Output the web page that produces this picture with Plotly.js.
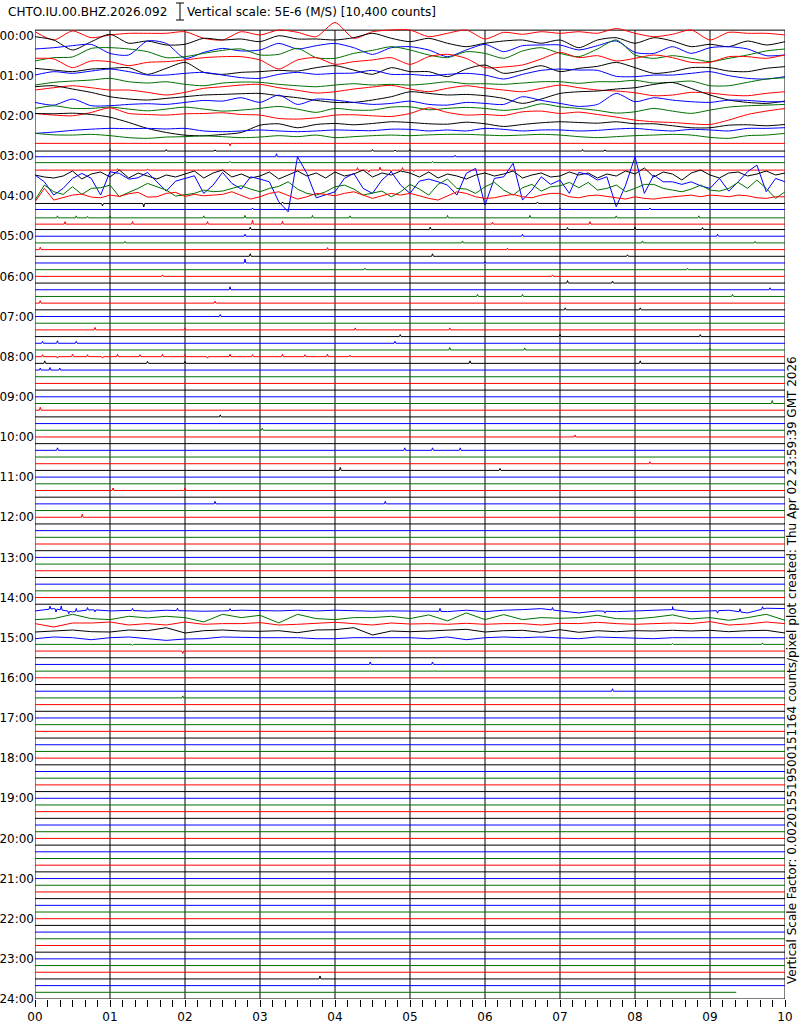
<!DOCTYPE html>
<html><head><meta charset="utf-8">
<script src="https://cdn.plot.ly/plotly-3.0.1.min.js"></script>
<style>html,body{margin:0;padding:0;background:#fff;}#chart{width:800px;height:1024px;}</style>
</head><body><div id="chart"></div>
<script>
// ---------- texts ----------
const stationTitle = "CHTO.IU.00.BHZ.2026.092";
const scaleTitle = "Vertical scale: 5E-6 (M/S) [10,400 counts]";
const sideText = "Vertical Scale Factor: 0.002015519500151164 counts/pixel plot created: Thu Apr 02 23:59:39 GMT 2026";
const hourLabels = ["00:00","01:00","02:00","03:00","04:00","05:00","06:00","07:00","08:00","09:00","10:00","11:00","12:00",
  "13:00","14:00","15:00","16:00","17:00","18:00","19:00","20:00","21:00","22:00","23:00","24:00"];
const minuteLabels = ["00","01","02","03","04","05","06","07","08","09","10"];
const rowColors = ["#ff0000","#000000","#0000ff","#007000"]; // row%4: red, black, blue, green
const rowsPerHour = 6;
const totalRows = 144;
const lastRowEndMinute = 9.35;

// ---------- traces (offsets in original pixels, up = positive) ----------
// 41 samples per row (every 15 s)
const row00 = [3.8,-4.5,4.5,-2.2,0.5,2.2,2.2,2.2,3.8,-2.8,-4.5,3.8,0.5,5.5,3.2,-1.2,13,-2.8,3.8,5.5,5.5,-1.2,2.2,5.5,-3.5,3.2,1.2,3.8,2.2,3.8,2.2,7,2.2,-1.2,1.2,5.5,-4.5,3.2,2.2,2.2,0.5];
const row01 = [5.5,2.2,-7.8,0.5,7.9,-1.1,1.2,-2.8,-2.1,3.9,2.2,3.2,0.5,6.5,3.2,3.2,2.2,4.5,8.9,3.9,0.5,3.9,-1.1,-4.5,-1.1,1.2,2.2,-1.1,2.2,-5.5,2.2,4.5,-1.1,4.5,1.2,-4.5,-2.1,-4.5,1.2,-2.8,0.5];
const row02 = [-0.1,1.2,3.2,4.5,-4.5,-6.1,7.9,5.5,-9.5,-3.5,0.5,-2.1,-1.1,5.5,-0.1,3.2,5.5,1.2,-5.5,1.2,2.2,-1.1,-7.8,-1.1,4.5,-2.8,3.2,3.9,3.9,-1.1,3.2,7.9,-3.5,-4.5,2.2,-4.5,1.2,2.2,-0.1,-6.8,-6.1];
const row03 = [-5.4,-2.1,-1.4,7.2,7.9,6.6,3.9,-2.1,-1.1,2.2,5.2,6.6,0.6,1.2,7.2,-2.1,-2.8,2.2,5.2,8.9,5.6,0.6,-2.1,3.9,2.2,-2.8,4.6,7.9,2.2,-1.1,6.6,15.6,0.6,-2.8,-0.1,-2.8,-6.1,-2.8,0.6,4.6,6.6];
const row04 = [3.9,3.3,-5.4,1.3,0.6,-3.4,-0.1,0.6,2.3,4.6,5.6,5.6,2.3,-6.7,2.3,4.6,-2.1,0.6,2.3,4.6,-2.1,5.6,8.0,3.9,-5.4,-4.7,-2.7,3.3,9.9,4.6,6.6,1.3,3.9,7.3,4.6,-0.1,-0.1,5.6,5.6,3.9,7.3];
const row05 = [0.6,-1.1,-2.7,-0.1,0.6,1.3,-5.4,0.6,6.6,-3.4,-5.4,-3.4,-2.7,-1.4,-2.1,1.3,3.3,-1.1,-5.4,1.3,-2.7,-2.7,-7.7,-0.1,3.9,-4.4,-1.4,3.3,-2.7,0.6,2.6,6.6,1.3,-4.4,-2.7,1.3,1.3,-2.1,-2.7,0.6,2.3];
const row06 = [0.6,4.0,2.3,4.6,6.6,4.0,0.6,0.6,2.3,3.3,0.6,-2.0,-2.7,1.3,3.3,1.3,2.3,2.6,5.3,1.3,1.3,0,1.3,2.3,0.6,-3.4,1.3,5.3,6.6,5.6,5.3,-0.7,-1.0,0.6,0.6,2.3,4.0,0,-2.7,-3.4,-1.0];
const row07 = [-2.7,0,1.3,2.3,4.0,0.6,-0.7,0.6,-2.0,-3.4,-0.7,0.3,0,-2.0,-3.4,-4.4,-2.7,-1.4,-2.7,-2.0,-2.7,-1.4,0.6,-1.4,-1.4,-2.0,-0.7,0.6,0.6,-1.0,0.6,0.6,2.0,-0.7,0,1.3,-3.4,-3.4,0,3.3,4.6];
const row08 = [-1.0,1.3,3.3,1.3,-1.0,-1.0,-3.3,-6.0,-3.3,0.7,2.3,4.0,4.7,1.3,-1.3,-4.0,-2.7,0,2.0,3.7,0,-2.7,0.7,3.3,1.0,-1.0,-2.7,0.7,4.0,1.3,-1.0,-2.0,-3.7,-6.7,-6.0,-3.3,-4.0,-6.0,-6.7,-4.3,-2.7];
const row09 = [9.0,10.0,6.7,3.3,-1.0,-3.3,-4.3,-2.7,-1.0,0.7,1.3,2.0,2.3,0,-2.0,-4.7,-6.7,-6.7,-4.3,-1.0,4.0,2.3,0.7,1.3,0,-2.7,-7.7,-3.3,2.3,4.0,4.7,6.7,8.0,11.3,13.3,7.3,0.7,-4.3,-6.7,-7.7,-5.3];
const row10 = [0,-2.7,3.3,-3.3,-3.3,-2.0,-1.3,-2.0,0,2.0,1.3,4.7,0,7.3,-2.0,3.3,2.3,0,-2.0,-1.0,1.3,-2.0,-2.7,0,-1.0,-2.0,5.7,2.0,-1.0,-4.0,-2.0,9.0,0.7,4.7,2.3,0.7,0,2.3,2.0,0.7,0.7];
const row11 = [0.7,3.3,0.7,0.7,2.0,0,-1.7,0,2.0,0,-2.0,-1.0,0.7,2.7,0,-3.3,0.7,-1.0,-1.0,2.0,2.3,-0.7,0.7,1.7,0.7,-1.3,0.7,5.3,2.3,0.7,-1.3,-4.0,-2.7,0.7,-2.0,-4.3,-1.0,2.0,3.3,4.0,4.7];
const row12 = [2.3,0.7,0,3.3,8.0,2.3,1.3,0.7,2.0,2.3,3.0,1.3,0.7,-2.7,-3.3,-2.0,0.7,1.0,0,-0.7,2.3,8.0,3.3,0.7,1.3,0.3,4.0,4.7,2.3,3.7,1.3,-1.3,-4.3,-6.0,-6.7,-8.0,-8.7,-4.3,1.3,4.7,7.3];
const row13 = [9.0,8.7,9.3,8.0,5.3,0,-6.0,-10.0,-12.7,-13.3,-12.0,-10.0,-2.7,-1.3,-5.3,-2.0,-1.0,-2.3,-1.0,0.7,0,-1.3,-1.7,0.3,-1.3,-4.0,-2.0,-0.3,0.7,0,-0.7,0.7,-1.3,-1.3,-3.3,-5.3,-5.3,-2.7,-2.3,-3.3,-2.0];
const row14 = [-4.2,-2.9,-1.2,0,0.8,0.5,0.8,0.2,0.8,-1.8,-2.5,-1.8,-0.8,-1.8,-2.5,-1.8,-0.8,-1.2,-1.5,0,-0.2,-1.8,-0.8,-1.8,0.8,-0.2,-1.8,-0.8,-0.8,-1.8,-1.2,0.2,0.8,-0.8,-1.8,-0.2,-0.8,-1.8,0.8,0.8,1.5];
const row15 = [2.5,1,0.8,1.5,0.2,-1.8,-2.5,-1.2,-0.8,0,-0.8,-1.8,-1.2,0.2,-0.8,0.8,-1.8,-0.8,0.2,0.8,0.2,1,1.5,1.5,0.8,0.2,0.8,1.5,0.8,-0.8,-1.8,-0.8,0.2,0.8,1.5,0.8,-1.5,-2.5,0.2,0.8,2.5];
const row86 = [0,2.3,-1,1.3,0,0.7,-0.3,0.7,0,-0.3,0,0.7,0,0,0.7,0,0.7,0,-0.3,0,0,0,-0.7,0.7,-0.7,0.7,1.3,2.3,0,-2,0,-0.7,0,0.7,1.3,-0.7,0,0.7,-2,2.7,2.3];
const row87 = [-2,-1,3.3,-1,-2,1.3,-0.3,1.3,0,-4.3,3.3,0,2.3,-5.3,3.3,-1,-2,0,0,1.3,-1,2.7,-3.3,4.7,-2,3,-2,0,-0.7,0,2.3,-1,-1.3,0.3,2.7,-1.3,0,-2.7,0,3.3,-2.7];
const row88 = [0.7,-2.7,1.3,1.3,2.3,-0.7,0.7,-0.7,2.3,0,0.7,0.7,1.7,-0.7,0,0.7,2,0.7,-0.7,1.3,0.3,0.7,0,1,0,0.7,0.7,-0.7,1,0.7,2,0.7,0,0.7,1.3,0.7,2.7,-0.7,0.3,2.3,0.7];
const row89 = [-1,0.3,1,-0.7,-1,1,0.3,3.3,-2,0.3,1,0,-0.3,0.3,-1.7,1,1.3,3.3,-4,0,-0.7,0,0.7,1.7,-1,0.3,0.7,-1.3,1.3,-1.3,0.3,-0.7,0.3,0,0.7,0,0.7,-0.7,0.3,0.7,-2];
const row90 = [-1,0.7,0,-2,0,0.7,-1,-2.7,-1.3,-1,0.7,0,0,0,0,-1,-1,0,0,0,0,-1,0.7,-2,0,0.7,0,0.7,0,-1,0.7,0,0,-1,0,0,0.7,0,0,0.7,0];
// 81 samples per row (every 7.5 s)
const row21 = [1,-1,-2,0,5,-3,2,4,-1,6,-2,3,0,-3,1,-1,2,5,-2,3,6,-1,2,-2,0,4,-3,1,5,0,3,-2,4,0,2,6,-1,3,1,5,3,-1,4,-2,2,0,-3,1,3,0,2,5,-2,1,3,-1,0,4,1,3,-2,2,0,5,2,8,-1,4,2,-4,3,6,1,-2,3,4,0,2,5,1,3];
const row22 = [7.6,0.9,-12.4,-5.7,4.3,9.3,4.3,-12.4,10.9,9.3,3.6,4.9,10.3,0.9,-8.4,1.6,4.3,6.9,-10.7,-2.4,10.3,-0.7,-6.4,5.9,3.6,0.9,-19.1,-29.1,25.9,9.3,-15.1,-12.4,-9.1,4.3,9.3,-5.7,-10.7,2.6,10.9,-2.4,-10.7,1.6,3.6,0.9,-2.4,-12.4,9.3,14.3,-22.4,4.3,5.9,19.3,-17.4,-7.4,5.9,-1.7,2.6,-10.7,10.3,8.3,2.6,5.9,-24,-2.4,25.9,-10.7,7.6,0.9,0.9,-1.7,0.9,-3.1,-5.7,4.3,-8.4,0.9,10.9,17.6,-9.1,4.3,0.9];
const row23 = [-10.7,4.3,-2.3,-5,2.7,-5,1,1.7,4.3,-7.3,-3,1,6,2.7,-0.7,-6.7,-5.7,-4,-0.7,-2.3,-1.7,1,3.6,0.3,-2.4,1,3,7.6,0.3,-4,-5.7,-2.4,2.6,4.3,0.3,-5.7,-4,-1.7,-7.4,-2.4,5,0.3,-5.7,5,10.3,1,0.3,-4,2.6,7,-0.7,-5.7,1.6,5,-1.7,2.6,3.6,7,1.6,7,-0.7,1,4.3,-2.4,1,5,5,1,-0.7,-2.4,0.3,4.3,-0.7,-1.7,1,7,1,9.3,1,-9,-2.4];
const row24 = [-5.7,7.7,-4,-1.7,1,2,-1,-1.7,1,-0.3,2.3,3.7,-1,-0.7,2.7,3.7,-0.3,1.7,0.3,1,1.7,4.3,0.3,-3,-0.7,2.7,4.3,1,-3,-0.7,2.7,1.7,0.3,2.7,4.3,1,-2.3,0.3,2.7,1,2.7,0.3,-2.3,-4,0.3,4.3,2.7,-0.7,-2.3,-1.7,0.3,1.7,-0.7,-1.7,1,2.7,2.7,-0.7,-1.7,0.3,1,-0.7,-1.7,-3,-0.7,-2.3,-3,-1.7,-0.7,0.3,1,-0.7,1,0.3,-0.7,1,0.3,-1.7,-2.3,-0.7,-0.7];
const smoothRows = [0,1,2,3,4,5,6,7,8,9,10,11,12,13,14,15];
const smoothData = [row00,row01,row02,row03,row04,row05,row06,row07,row08,row09,row10,row11,row12,row13,row14,row15];
const sampledRows = [21,22,23,24,86,87,88,89,90];
const sampledData = [row21,row22,row23,row24,row86,row87,row88,row89,row90];

// quiet rows: constant level plus small spikes
const levelRows = [16,17,18,19,20,25,26,27,28,91];
const levelValues = [-0.8,-1.8,-0.8,0,-0.8,-0.7,0,-1.7,-1.3,0];
const spikeRow = [16,17,17,17,17,17,17,17,17,18,18,18,19,19,19,20,20,20,20,20,20,20,20,
  25,25,25,25,26,26,26,27,27,27,27,27,27,27,27,27,27,27,27,28,28,28,28,28,28,28,
  29,29,29,29,29,30,30,30,31,31,31,31,32,32,32,33,33,33,34,34,35,35,36,36,37,37,38,38,39,39,39,40,40,41,41,42,
  44,44,44,44,45,45,45,46,46,46,46,47,47,47,48,48,48,48,48,48,48,48,48,48,48,48,48,48,48,48,
  49,49,49,49,49,50,50,50,55,56,57,59,60,62,62,62,62,64,65,65,68,68,70,70,72,
  86,86,86,86,86,86,86,86,86,86,86,86,86,86,86,86,86,
  91,91,91,92,94,94,98,99,141];
const spikeMinute = [2.6,1.0,1.75,2.4,4.5,4.8,5.0,7.3,7.6,3.22,5.6,9.0,2.0,2.6,5.3,4.3,4.45,4.6,4.75,4.9,5.05,1.1,1.5,
  0.9,1.45,3.3,6.7,2.9,7.0,8.2,0.3,0.55,0.7,1.0,2.25,2.8,3.7,4.2,5.5,6.6,7.75,8.85,0.4,1.3,2.3,2.9,3.3,6.1,7.4,
  2.87,5.27,7.1,8.0,8.9,2.8,6.5,9.1,1.2,5.7,8.1,9.6,0.07,3.9,6.3,2.87,5.3,7.9,2.8,6.0,4.4,8.7,1.7,6.9,7.1,7.7,2.6,9.8,5.9,6.5,9.3,0.07,2.4,7.07,8.07,2.47,
  0.8,2.0,4.27,5.53,4.87,7.0,8.87,0.1,0.3,0.55,4.8,5.53,6.53,9.0,0.1,0.3,0.5,0.7,0.9,1.1,1.4,1.7,2.0,2.3,2.6,2.9,3.3,3.6,3.9,4.2,
  0.13,1.5,2.0,5.8,8.07,0.07,0.2,0.33,9.83,0.07,2.47,3.03,7.2,0.3,4.93,5.3,5.67,8.2,4.07,6.2,1.04,2.0,2.4,4.67,0.63,
  0.2,0.28,0.35,0.45,0.55,0.7,0.8,1.3,1.9,2.6,5.4,6.9,7.6,8.5,9.1,9.4,9.7,
  1.3,8.5,9.7,1.97,4.47,5.3,7.7,1.97,3.8];
const spikeAmp = [-2.5,1.5,1.5,1.2,1.5,1,1.5,1.5,1.2,3,1.5,1,1.5,1.2,1.2,2.5,-2,3,-2,2.5,-1.5,1.5,1.2,
  -2.5,-3.5,1.5,1.5,1.5,1.5,1.5,2,2,1.5,2,2,2.5,2.5,2,2.5,2.5,2,2,2.5,2.5,2.5,4,3,2,2.5,
  2.5,2.5,2,2.5,2,2,2,2,1.5,2,2,1.5,2.5,2,1.5,2.5,2.5,1.5,4,1.5,1.5,1.5,1.5,1.5,2.5,2,3,2,2,2,2,2.5,2,2,2,2,
  2.5,2,2,2,2,2,2,2,2.5,2,2,2.5,2,2,2,-1.5,2.5,2,-1.5,2.5,2,2.5,2,-1.5,2.5,2,2.5,2,2.5,1.5,
  2.5,2,2,2.5,2.5,2,2.5,2,3,3,2,2,2,2.5,2.5,2.5,2.5,2,3,2,2.5,2.5,2.5,2.5,3,
  3,-3,4,-2.5,3,2.5,-2,2,2.5,2,3,2.5,-2,3,-2.5,3,2.5,
  -1,1,1.5,-2.5,2.5,2.5,2.5,2,3];

// ---------- build ----------
const PX_PER_ROW = 6.691;
const SPIKE_HALF = 0.012;
const traces = [];
function addRow(r, xs, offs, shape) {
  traces.push({
    type: 'scatter', mode: 'lines', x: xs,
    y: offs.map(o => r - o / PX_PER_ROW),
    line: {color: rowColors[r % 4], width: 1, shape: shape, smoothing: 0.7},
    hoverinfo: 'skip', showlegend: false
  });
}
function grid(n) { const a = []; for (let i = 0; i < n; i++) a.push(i * 10 / (n - 1)); return a; }
function baseAt(xs, ys, m) {
  for (let i = 1; i < xs.length; i++) {
    if (m <= xs[i]) { const t = (m - xs[i - 1]) / (xs[i] - xs[i - 1]); return ys[i - 1] + t * (ys[i] - ys[i - 1]); }
  }
  return ys[ys.length - 1];
}
function withSpikes(r, xs, ys) {
  const sp = [];
  spikeRow.forEach((sr, i) => { if (sr === r) sp.push([spikeMinute[i], spikeAmp[i]]); });
  if (!sp.length) return [xs, ys];
  const pts = xs.map((x, i) => [x, ys[i]]);
  sp.forEach(([m, a]) => {
    const b = baseAt(xs, ys, m);
    pts.push([m - SPIKE_HALF, baseAt(xs, ys, m - SPIKE_HALF)], [m, b + a], [m + SPIKE_HALF, baseAt(xs, ys, m + SPIKE_HALF)]);
  });
  pts.sort((p, q) => p[0] - q[0]);
  return [pts.map(p => p[0]), pts.map(p => p[1])];
}
for (let r = 0; r < totalRows; r++) {
  const si = smoothRows.indexOf(r);
  if (si >= 0) { addRow(r, grid(smoothData[si].length), smoothData[si], 'spline'); continue; }
  const fi = sampledRows.indexOf(r);
  if (fi >= 0) {
    const [xs, ys] = withSpikes(r, grid(sampledData[fi].length), sampledData[fi]);
    addRow(r, xs, ys, 'linear'); continue;
  }
  const li = levelRows.indexOf(r);
  const lvl = li >= 0 ? levelValues[li] : 0;
  const end = (r === totalRows - 1) ? lastRowEndMinute : 10;
  const [xs, ys] = withSpikes(r, [0, end], [lvl, lvl]);
  addRow(r, xs, ys, 'linear');
}

const topRow = -0.8;
const shapes = [];
for (let m = 0; m <= 10; m++) {
  shapes.push({type: 'line', xref: 'x', yref: 'y', x0: m, x1: m, y0: topRow, y1: totalRows,
    line: {color: '#000', width: 1}, layer: 'below'});
}
shapes.push({type: 'line', xref: 'x', yref: 'y', x0: 0, x1: 10, y0: topRow, y1: topRow, line: {color: '#000', width: 1}, layer: 'below'});
shapes.push({type: 'line', xref: 'x', yref: 'y', x0: 0, x1: 10, y0: totalRows, y1: totalRows, line: {color: '#000', width: 1}, layer: 'below'});
// scale bar glyph in title area (paper coords)
const W = 750, H = 979, L = 35, T = 20;
const px = x => (x - L) / W, py = y => (T + H - y) / H;
shapes.push({type: 'line', xref: 'paper', yref: 'paper', x0: px(180), x1: px(180), y0: py(3), y1: py(20), line: {color: '#000', width: 1}});
shapes.push({type: 'line', xref: 'paper', yref: 'paper', x0: px(176), x1: px(184), y0: py(3), y1: py(3), line: {color: '#000', width: 1}});
shapes.push({type: 'line', xref: 'paper', yref: 'paper', x0: px(176), x1: px(184), y0: py(20), y1: py(20), line: {color: '#000', width: 1}});

const font = {family: 'DejaVu Sans', size: 12, color: '#000'};
const layout = {
  width: 800, height: 1024,
  margin: {l: L, r: 15, t: T, b: 25, pad: 0},
  paper_bgcolor: '#fff', plot_bgcolor: '#fff',
  font: font, showlegend: false,
  xaxis: {range: [0, 10], tickvals: minuteLabels.map((s, i) => i), ticktext: minuteLabels,
    ticks: 'outside', ticklen: 7, tickwidth: 1, tickcolor: '#000', showgrid: false, zeroline: false, showline: false,
    minor: {dtick: 1 / 6, tick0: 0, ticks: 'outside', ticklen: 7, tickwidth: 1, tickcolor: '#000', showgrid: false},
    tickfont: font, fixedrange: true},
  yaxis: {range: [totalRows, -(35.5 - T) / PX_PER_ROW], tickvals: hourLabels.map((s, i) => i * rowsPerHour), ticktext: hourLabels,
    ticks: '', showgrid: false, zeroline: false, showline: false, tickfont: font, fixedrange: true},
  shapes: shapes,
  annotations: [
    {xref: 'paper', yref: 'paper', x: px(6), y: py(12), xanchor: 'left', yanchor: 'middle', text: stationTitle, showarrow: false, font: font},
    {xref: 'paper', yref: 'paper', x: px(185), y: py(12), xanchor: 'left', yanchor: 'middle', text: scaleTitle, showarrow: false, font: font},
    {xref: 'paper', yref: 'paper', x: px(792), y: py(670), xanchor: 'center', yanchor: 'middle', text: sideText, textangle: -90, showarrow: false, font: font}
  ]
};
Plotly.newPlot('chart', traces, layout, {staticPlot: true, displayModeBar: false});
</script>
</body></html>
